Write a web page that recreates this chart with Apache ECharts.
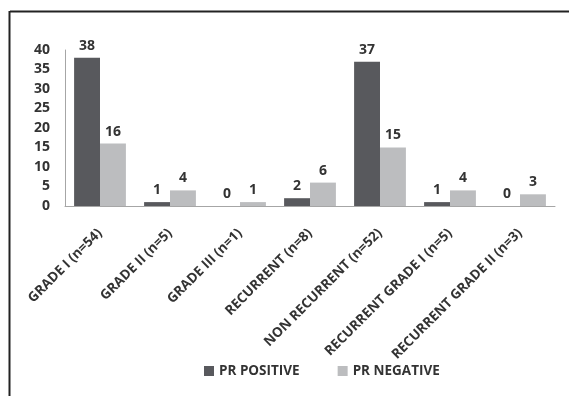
<!DOCTYPE html>
<html>
<head>
<meta charset="utf-8">
<script src="https://cdn.jsdelivr.net/npm/echarts@6/dist/echarts.min.js"></script>
<style>
html,body{margin:0;padding:0;background:#fff;}
#chart{width:569px;height:396px;}
</style>
</head>
<body>
<div id="chart"></div>
<script>
// Progesterone receptor status by tumour group
const categories = ['GRADE I (n=54)', 'GRADE II (n=5)', 'GRADE III (n=1)', 'RECURRENT (n=8)', 'NON RECURRENT (n=52)', 'RECURRENT GRADE I (n=5)', 'RECURRENT GRADE II (n=3)'];
const prPositive = [38, 1, 0, 2, 37, 1, 0];
const prNegative = [16, 4, 1, 6, 15, 4, 3];
const yTicks = [0, 5, 10, 15, 20, 25, 30, 35, 40];

const FONT = '"Open Sans", "DejaVu Sans", sans-serif';
const chart = echarts.init(document.getElementById('chart'));

const labelStyle = {
  show: true,
  position: 'top',
  distance: 5,
  fontFamily: FONT,
  fontWeight: 'bold',
  fontSize: 14,
  color: '#333'
};

chart.setOption({
  animation: false,
  backgroundColor: '#fff',
  graphic: [
    { type: 'line', shape: { x1: 10, y1: 11.5, x2: 569, y2: 11.5 }, style: { stroke: '#222', lineWidth: 2 } },
    { type: 'line', shape: { x1: 9.5, y1: 11, x2: 9.5, y2: 396 }, style: { stroke: '#222', lineWidth: 2 } }
  ],
  grid: { left: 65, right: 14, top: 50, bottom: 190 },
  legend: {
    top: 359,
    left: 199,
    itemWidth: 10,
    itemHeight: 10,
    itemGap: 38,
    icon: 'rect',
    textStyle: { fontFamily: FONT, fontWeight: 'bold', fontSize: 13.5, color: '#333' },
    data: ['PR POSITIVE', 'PR NEGATIVE']
  },
  xAxis: {
    type: 'category',
    data: categories,
    axisLine: { lineStyle: { color: '#a6a6a6', width: 1 } },
    axisTick: { show: false },
    axisLabel: {
      interval: 0,
      rotate: 45,
      margin: 25,
      fontFamily: FONT,
      fontWeight: 'bold',
      fontSize: 13.5,
      color: '#333'
    }
  },
  yAxis: {
    type: 'value',
    min: yTicks[0],
    max: yTicks[yTicks.length - 1],
    interval: 5,
    axisLine: { show: true, lineStyle: { color: '#a6a6a6', width: 1 } },
    axisTick: { show: false },
    splitLine: { show: false },
    axisLabel: {
      margin: 15,
      fontFamily: FONT,
      fontWeight: 'bold',
      fontSize: 14,
      color: '#333'
    }
  },
  series: [
    {
      name: 'PR POSITIVE',
      type: 'bar',
      data: prPositive,
      barGap: '0%',
      barCategoryGap: '26%',
      itemStyle: { color: '#58595d' },
      label: labelStyle
    },
    {
      name: 'PR NEGATIVE',
      type: 'bar',
      data: prNegative,
      itemStyle: { color: '#bcbdbf' },
      label: labelStyle
    }
  ]
});
</script>
</body>
</html>
